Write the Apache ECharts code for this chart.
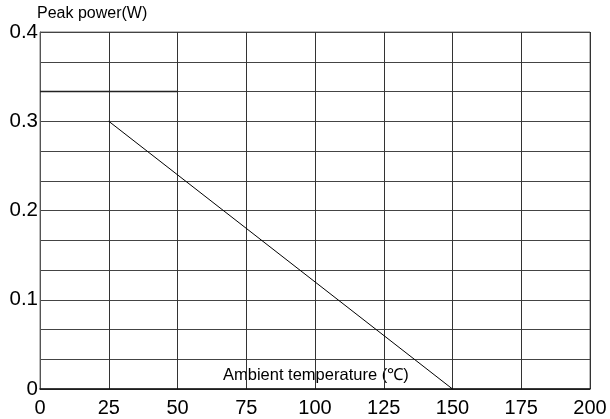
<!DOCTYPE html>
<html><head><meta charset="utf-8">
<script src="https://cdn.jsdelivr.net/npm/echarts@6/dist/echarts.min.js"></script>
<style>html,body{margin:0;padding:0;background:#fff}#c{width:610px;height:419px}</style>
</head><body><div id="c"></div>
<script>
const xTicks = [0, 25, 50, 75, 100, 125, 150, 175, 200];
const yTicks = [0, 0.1, 0.2, 0.3, 0.4];
const deratingX = [25, 150];
const deratingY = [0.3, 0];
const flatX = [0, 50];
const flatY = [0.3333, 0.3333];
const yTitle = 'Peak power(W)';
const xTitle = 'Ambient temperature (℃)';

const chart = echarts.init(document.getElementById('c'), null, {renderer: 'canvas'});
const font = 'Liberation Sans, Arial, sans-serif';
chart.setOption({
  animation: false,
  grid: {left: 40, right: 20, top: 32, bottom: 30, containLabel: false},
  xAxis: {
    type: 'value', min: xTicks[0], max: xTicks[xTicks.length-1], interval: 25,
    axisLine: {show: true, lineStyle: {color: '#111', width: 1.5}},
    axisTick: {show: false},
    axisLabel: {color: '#000', fontSize: 20, fontFamily: font, margin: 9},
    splitLine: {show: true, lineStyle: {color: '#333', width: 1}}
  },
  yAxis: {
    type: 'value', min: yTicks[0], max: yTicks[yTicks.length-1], interval: 0.1,
    axisLine: {show: true, lineStyle: {color: '#555', width: 1}},
    axisTick: {show: false},
    axisLabel: {color: '#000', fontSize: 20.5, fontFamily: font, margin: 2,
      formatter: v => String(Math.round(v*10)/10)},
    splitLine: {show: true, lineStyle: {color: '#444', width: 1}},
    minorTick: {show: false, splitNumber: 3},
    minorSplitLine: {show: true, lineStyle: {color: '#444', width: 1}}
  },
  graphic: [
    {type: 'text', left: 37, top: 6, style: {text: yTitle, fontSize: 16, fontFamily: font, fill: '#000'}},
    {type: 'text', left: 223, top: 367, style: {text: xTitle, fontSize: 16.5, fontFamily: font, fill: '#000'}},
    {type: 'rect', shape: {x: 40, y: 32, width: 550, height: 357}, style: {fill: 'none', stroke: '#777', lineWidth: 1}, silent: true, z: 0}
  ],
  series: [
    {type: 'line', data: deratingX.map((x,i)=>[x, deratingY[i]]), symbol: 'none',
     lineStyle: {color: '#000', width: 1}},
    {type: 'line', data: flatX.map((x,i)=>[x, flatY[i]]), symbol: 'none',
     lineStyle: {color: '#222', width: 1.5}}
  ]
});
</script></body></html>
